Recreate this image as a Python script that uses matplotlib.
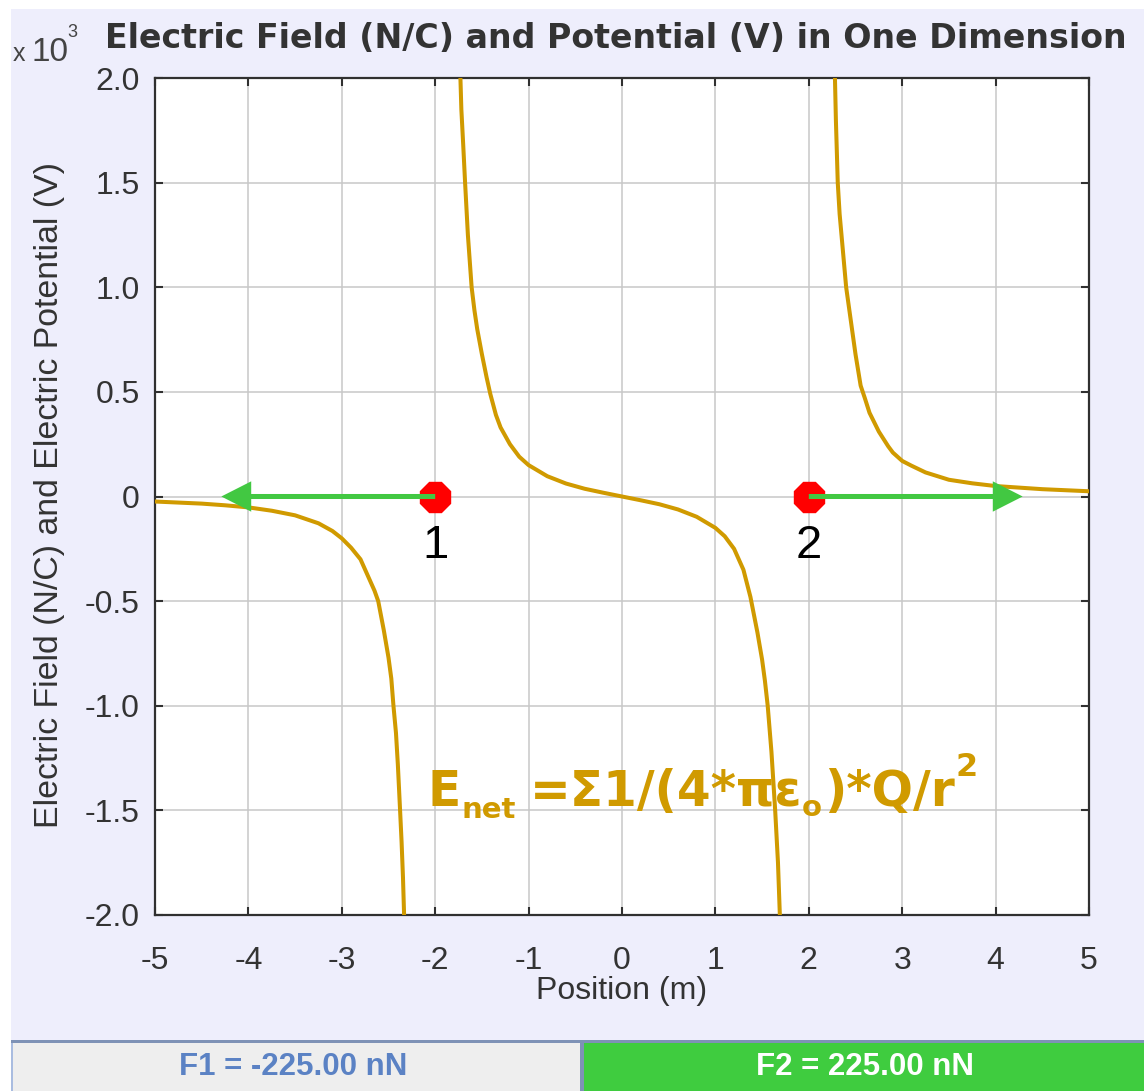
import matplotlib
matplotlib.use('Agg')
import matplotlib.pyplot as plt
from matplotlib.patches import Rectangle
from matplotlib import transforms

plt.rcParams['axes.unicode_minus'] = False
plt.rcParams['font.family'] = ['Liberation Sans', 'DejaVu Sans']

# ---------------- data (y in units of 10^3 N/C) ----------------
seg_left_x = [-5.0, -4.75, -4.5, -4.25, -4.0, -3.75, -3.5, -3.25, -3.1, -3.0, -2.9, -2.8, -2.7, -2.65,
              -2.61, -2.55, -2.5, -2.47, -2.447, -2.42, -2.40, -2.376, -2.36, -2.345, -2.333]
seg_left_y = [-0.024, -0.029, -0.034, -0.042, -0.052, -0.068, -0.09, -0.128, -0.165, -0.20, -0.245, -0.30,
              -0.40, -0.45, -0.50, -0.64, -0.77, -0.87, -1.00, -1.13, -1.28, -1.50, -1.65, -1.82, -2.00]

seg_mid_x = [-1.73, -1.72, -1.70, -1.68, -1.65, -1.61, -1.58, -1.55, -1.50, -1.45, -1.41, -1.35, -1.30, -1.25,
             -1.20, -1.10, -1.00, -0.80, -0.60, -0.40, -0.20, 0.0, 0.20, 0.40, 0.60, 0.80, 1.00, 1.10,
             1.20, 1.25, 1.30, 1.375, 1.45, 1.50, 1.53, 1.56, 1.60, 1.64, 1.67, 1.69]
seg_mid_y = [2.00, 1.85, 1.68, 1.50, 1.25, 1.00, 0.89, 0.80, 0.68, 0.57, 0.49, 0.39, 0.33, 0.29,
             0.25, 0.19, 0.15, 0.097, 0.062, 0.037, 0.018, 0.0, -0.018, -0.037, -0.062, -0.097, -0.15, -0.19,
             -0.25, -0.30, -0.35, -0.48, -0.65, -0.78, -0.88, -1.00, -1.22, -1.50, -1.75, -2.00]

seg_right_x = [2.28, 2.29, 2.31, 2.33, 2.36, 2.40, 2.45, 2.50, 2.555, 2.60, 2.65, 2.70, 2.75, 2.85, 2.9,
               3.0, 3.1, 3.25, 3.5, 3.75, 4.0, 4.5, 5.0]
seg_right_y = [2.00, 1.80, 1.50, 1.35, 1.20, 1.00, 0.84, 0.68, 0.53, 0.47, 0.40, 0.355, 0.31, 0.24, 0.21,
               0.17, 0.147, 0.115, 0.08, 0.063, 0.05, 0.035, 0.025]

charge_x = [-2.0, 2.0]
charge_labels = ['1', '2']
arrow_tip_x = [-4.29, 4.29]
forces_nN = [-225.00, 225.00]

x_ticks = [-5, -4, -3, -2, -1, 0, 1, 2, 3, 4, 5]
x_tick_labels = ['-5', '-4', '-3', '-2', '-1', '0', '1', '2', '3', '4', '5']
y_ticks = [-2.0, -1.5, -1.0, -0.5, 0.0, 0.5, 1.0, 1.5, 2.0]
y_tick_labels = ['-2.0', '-1.5', '-1.0', '-0.5', '0', '0.5', '1.0', '1.5', '2.0']

title = 'Electric Field (N/C) and Potential (V) in One Dimension'
xlabel = 'Position (m)'
ylabel = 'Electric Field (N/C) and Electric Potential (V)'

# ---------------- style ----------------
W, H = 1144, 1091
LAV = '#EEEEFC'
GOLD = '#D09A00'
GREEN = '#42C842'
DARK = '#333333'

fig = plt.figure(figsize=(W / 100, H / 100), dpi=100)
fig.patch.set_facecolor('white')
renderer = fig.canvas.get_renderer()


def px_rect(x0, y0, x1, y1, color):
    fig.add_artist(Rectangle((x0 / W, 1 - y1 / H), (x1 - x0) / W, (y1 - y0) / H,
                             transform=fig.transFigure, facecolor=color,
                             edgecolor='none', zorder=-10))


def fit_width(t, target_px, horizontal=True):
    bb = t.get_window_extent(renderer)
    cur = bb.width if horizontal else bb.height
    t.set_fontsize(t.get_fontsize() * target_px / cur)


# backgrounds
px_rect(11, 9, W, 1040, LAV)
px_rect(11, 1040, W, 1043, '#7E92B6')
px_rect(11, 1043, 580, H, '#EEEEEE')
px_rect(11, 1043, 13, H, '#A9BCE0')
px_rect(580, 1043, 584, H, '#7E92B6')
px_rect(584, 1043, W, H, '#3FCC3F')

ax = fig.add_axes([155 / W, 1 - 915 / H, (1089 - 155) / W, (915 - 78) / H])
ax.set_facecolor('white')
ax.set_xlim(-5, 5)
ax.set_ylim(-2, 2)
ax.set_xticks(x_ticks)
ax.set_xticklabels(x_tick_labels)
ax.set_yticks(y_ticks)
ax.set_yticklabels(y_tick_labels)
ax.grid(True, color='#C8C8C8', linewidth=1.1)
ax.set_axisbelow(True)
ax.tick_params(axis='both', direction='in', length=6, width=1.5, top=True, right=True,
               color='#303030', labelcolor=DARK, labelsize=23)
ax.tick_params(axis='x', pad=22)
ax.tick_params(axis='y', pad=11)
for sp in ax.spines.values():
    sp.set_color('#303030')
    sp.set_linewidth(1.6)

# curve
for sx, sy in [(seg_left_x, seg_left_y), (seg_mid_x, seg_mid_y), (seg_right_x, seg_right_y)]:
    ax.plot(sx, sy, color=GOLD, linewidth=2.9, zorder=3)

# charges
ax.plot(charge_x, [0, 0], linestyle='none', marker='8', markersize=24,
        markerfacecolor='#FF0000', markeredgecolor='#FF0000', zorder=4)
for cx, tip in zip(charge_x, arrow_tip_x):
    ax.arrow(cx, 0, tip - cx, 0, width=0.024, head_width=0.145, head_length=0.32,
             length_includes_head=True, color=GREEN, zorder=5, linewidth=0)
for cx, lab in zip(charge_x, charge_labels):
    ax.annotate(lab, (cx, 0), xytext=(0, -20), textcoords='offset points',
                ha='center', va='top', fontsize=34, color='black', zorder=6)

# formula (E_net = sum 1/(4 pi eps0) * Q / r^2)
pieces = [('E', 35, 0, 0), ('net', 21, -12, 1), ('=Σ1/(4*πε', 35, 0, 14),
          ('o', 21, -10, 0), (')*Q/r', 35, 0, 2), ('2', 23, 30, 1)]
x_off = 0.0
fx, fy = (427 - 155) / (1089 - 155), (915 - 806) / (915 - 78)
for txt, size, dy, gap in pieces:
    x_off += gap
    t = ax.text(fx, fy, txt, fontsize=size, fontweight='bold', color=GOLD,
                family=['DejaVu Sans'], ha='left', va='baseline', zorder=6,
                transform=transforms.offset_copy(ax.transAxes, fig=fig, x=x_off, y=dy, units='dots'))
    x_off += t.get_window_extent(renderer).width

# texts
tt = fig.text(105 / W, 1 - 48 / H, title, fontsize=22, fontweight='bold', color=DARK,
              family=['DejaVu Sans'], ha='left', va='baseline')
fit_width(tt, 1020)
fig.text(13 / W, 1 - 61 / H, 'x', fontsize=18, color='#444444', ha='left', va='baseline')
fig.text(31 / W, 1 - 61 / H, '10', fontsize=24, color='#444444', ha='left', va='baseline')
fig.text(67 / W, 1 - 37 / H, '3', fontsize=13, color='#444444', ha='left', va='baseline')
fig.text(622 / W, 1 - 999 / H, xlabel, fontsize=23, color=DARK, ha='center', va='baseline')
yl = fig.text(50 / W, 1 - 495 / H, ylabel, fontsize=23, color=DARK, ha='center', va='center',
              rotation=90)
fit_width(yl, 668, horizontal=False)

fig.text(293 / W, 1 - 1067 / H, 'F1 = %.2f nN' % forces_nN[0], fontsize=22.5, fontweight='bold',
         color='#5B82C4', ha='center', va='center')
fig.text(865 / W, 1 - 1067 / H, 'F2 = %.2f nN' % forces_nN[1], fontsize=22.5, fontweight='bold',
         color='white', ha='center', va='center')

fig.savefig('out.png', dpi=100, facecolor=fig.get_facecolor())
